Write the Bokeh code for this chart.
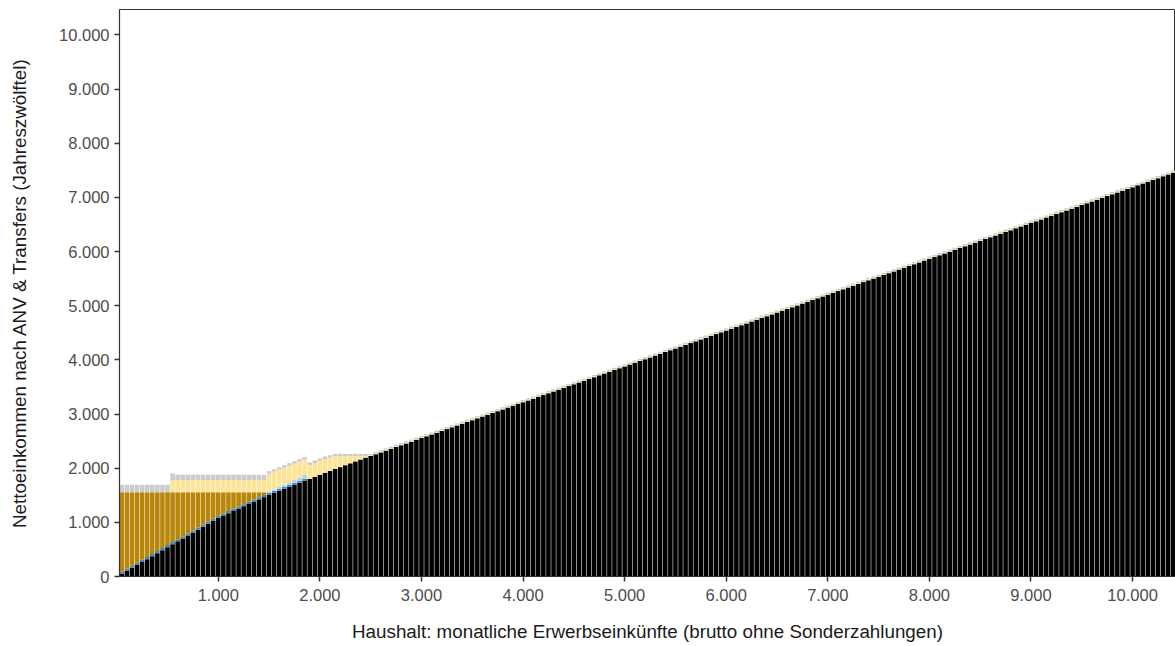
from bokeh.plotting import figure
from bokeh.models import ColumnDataSource, Range1d, FixedTicker, CustomJSTickFormatter
from bokeh.embed import file_html
from bokeh.resources import INLINE

# Gross monthly household earnings (bar positions)
brutto = list(range(50, 10401, 50))

# Net earnings (black)
netto = [50, 105, 160, 215, 270, 320, 375, 430, 485, 540,
         595, 650, 700, 755, 810, 865, 920, 975, 1030, 1083,
         1125, 1168, 1210, 1253, 1295, 1338, 1380, 1423, 1465, 1508,
         1545, 1582, 1619, 1656, 1693, 1730, 1767, 1804, 1841, 1878,
         1915, 1950, 1985, 2020, 2055, 2090, 2125, 2160, 2195, 2225,
         2258, 2291, 2324, 2357, 2391, 2424, 2457, 2490, 2523, 2556,
         2589, 2622, 2655, 2688, 2722, 2755, 2788, 2821, 2854, 2887,
         2920, 2953, 2986, 3019, 3053, 3086, 3119, 3152, 3185, 3218,
         3251, 3284, 3317, 3350, 3384, 3417, 3450, 3483, 3516, 3549,
         3582, 3615, 3648, 3681, 3715, 3748, 3781, 3814, 3847, 3880,
         3913, 3946, 3979, 4012, 4046, 4079, 4112, 4145, 4178, 4211,
         4244, 4277, 4310, 4343, 4377, 4410, 4443, 4476, 4509, 4542,
         4575, 4608, 4641, 4674, 4708, 4741, 4774, 4807, 4840, 4873,
         4906, 4939, 4972, 5005, 5039, 5072, 5105, 5138, 5171, 5204,
         5237, 5270, 5303, 5336, 5370, 5403, 5436, 5469, 5502, 5535,
         5568, 5601, 5634, 5667, 5701, 5734, 5767, 5800, 5833, 5866,
         5899, 5932, 5965, 5998, 6032, 6065, 6098, 6131, 6164, 6197,
         6230, 6263, 6296, 6329, 6363, 6396, 6429, 6462, 6495, 6528,
         6561, 6594, 6627, 6660, 6694, 6727, 6760, 6793, 6826, 6859,
         6892, 6925, 6958, 6991, 7025, 7058, 7091, 7124, 7157, 7190,
         7223, 7256, 7289, 7322, 7356, 7389, 7422, 7455]

# Dark blue component
blau = [40] * 37 + [0] * 171

# Light blue component
hellblau = [0] * 29 + [15, 22, 30, 37, 45, 52, 60, 67] + [0] * 171

# Dark gold component
gold = [1466, 1411, 1356, 1301, 1246, 1196, 1141, 1086, 1031, 976,
        921, 866, 816, 761, 706, 651, 596, 541, 486, 433,
        391, 348, 306, 263, 221, 178, 136, 93, 51] + [0] * 179

# Light yellow component
gelb = ([0] * 10 + [224] * 19 +
        [336, 329, 321, 314, 306, 299, 291, 284,
         256, 255, 257, 255, 245, 235, 200, 165, 130, 95, 60, 25] +
        [15] * 159)

# Light grey component
grau = [137] * 10 + [127] + [97] * 18 + [45] * 20 + [25] * 159

komponenten = ["netto", "blau", "hellblau", "gold", "gelb", "grau"]
farben = ["#000000", "#3b86c6", "#b5d5ef", "#b8860b", "#fde597", "#cccccc"]

source = ColumnDataSource(dict(brutto=brutto, netto=netto, blau=blau,
                               hellblau=hellblau, gold=gold, gelb=gelb, grau=grau))

p = figure(width=1175, height=646, output_backend="svg", toolbar_location=None,
           x_range=Range1d(27.5, 10422.5), y_range=Range1d(0, 10470),
           min_border_left=119, min_border_right=0, min_border_top=9, min_border_bottom=70)

p.vbar_stack(komponenten, x="brutto", width=45, color=farben, line_color=None,
             source=source)

p.xgrid.visible = False
p.ygrid.visible = False
p.outline_line_color = "#333333"
p.outline_line_width = 1

fmt = CustomJSTickFormatter(code="return tick.toString().replace(/\\B(?=(\\d{3})+(?!\\d))/g, '.');")

for ax in (p.xaxis[0], p.yaxis[0]):
    ax.formatter = fmt
    ax.major_tick_out = 5
    ax.major_tick_in = 0
    ax.minor_tick_out = 0
    ax.minor_tick_in = 0
    ax.axis_line_color = "#333333"
    ax.axis_line_width = 1.2
    ax.major_tick_line_color = "#333333"
    ax.major_tick_line_width = 1.5
    ax.major_label_text_font = "Liberation Sans"
    ax.major_label_text_font_size = "16.5px"
    ax.major_label_text_color = "#4d4d4d"
    ax.axis_label_text_font = "Liberation Sans"
    ax.axis_label_text_font_size = "18.8px"
    ax.axis_label_text_font_style = "normal"
    ax.axis_label_text_color = "#1a1a1a"

p.xaxis[0].ticker = FixedTicker(ticks=list(range(1000, 10001, 1000)))
p.yaxis[0].ticker = FixedTicker(ticks=list(range(0, 10001, 1000)))
p.xaxis[0].axis_label = "Haushalt: monatliche Erwerbseinkünfte (brutto ohne Sonderzahlungen)"
p.yaxis[0].axis_label = "Nettoeinkommen nach ANV & Transfers (Jahreszwölftel)"
p.xaxis[0].major_label_standoff = 7
p.xaxis[0].axis_label_standoff = 17
p.yaxis[0].major_label_standoff = 5
p.yaxis[0].axis_label_standoff = 26

open("out.html", "w").write(file_html(p, INLINE))
